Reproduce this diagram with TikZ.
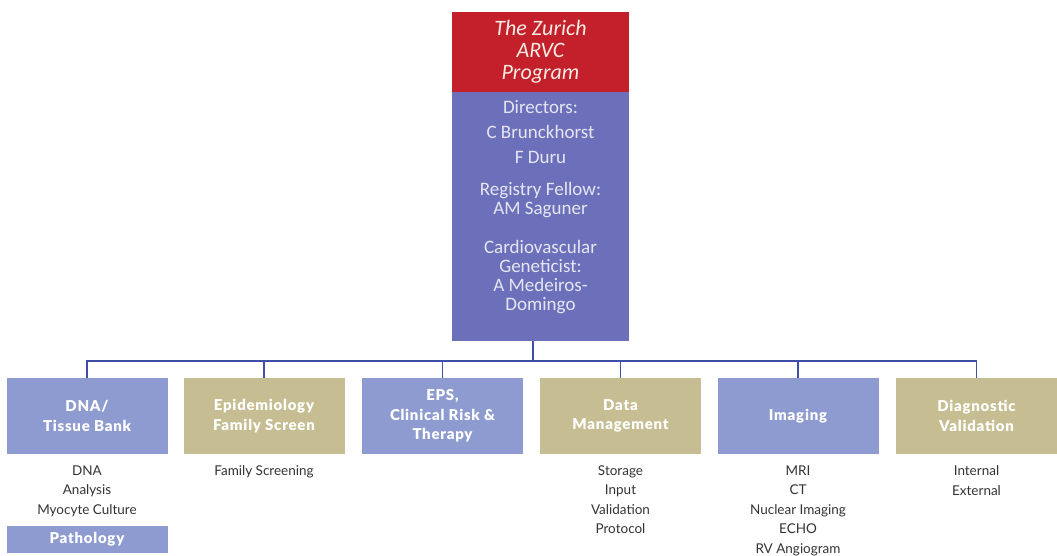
\documentclass[tikz,border=0pt]{standalone}
\usepackage{fontspec}
\setmainfont{Carlito}
\newfontfamily\gillfont{Lato}
\IfFontExistsTF{Lato Black}
  {\newfontfamily\unitfont{Lato Black}[LetterSpace=5]}
  {\newcommand\unitfont{\gillfont\bfseries}}
\usetikzlibrary{positioning}
\definecolor{arvcred}{HTML}{C4202B}
\definecolor{titletext}{HTML}{F6ECE4}
\definecolor{staffblue}{HTML}{6C70BA}
\definecolor{stafftextc}{HTML}{E6E6F2}
\definecolor{unitblue}{HTML}{8E9BD0}
\definecolor{unittan}{HTML}{C6BE92}
\definecolor{linkblue}{HTML}{3F4FA8}
\definecolor{tasktext}{HTML}{333333}

\begin{document}
\begin{tikzpicture}[
    x=1pt, y=-1pt,
    link/.style={
      draw=linkblue,
      line width=1.8pt
    },
    titlebox/.style={
      fill=arvcred,
      minimum width=177pt,
      minimum height=80pt,
      inner sep=0pt,
      text=titletext,
      align=center,
      font=\fontsize{22}{22}\selectfont\itshape
    },
    staffbox/.style={
      fill=staffblue,
      minimum width=177pt,
      minimum height=249pt,
      inner sep=0pt
    },
    stafftext/.style={
      text=stafftextc,
      align=center,
      inner sep=0pt,
      font=\fontsize{19}{19}\selectfont
    },
    unit/.style={
      minimum width=161pt,
      minimum height=76pt,
      inner sep=0pt,
      text=white,
      align=center,
      font=\unitfont\fontsize{15}{19.5}\selectfont
    },
    blueunit/.style={unit, fill=unitblue},
    tanunit/.style={unit, fill=unittan},
    tasks/.style={
      anchor=north,
      align=center,
      inner sep=0pt,
      text=tasktext,
      font=\gillfont\fontsize{13.5}{19.5}\selectfont
    }
  ]
  \useasboundingbox (0,0) rectangle (1057,555);

  % program head
  \node[titlebox] (title) at (540.5,52) {The Zurich\\ARVC\\Program};
  \node[staffbox] (staff) at (540.5,216.5) {};
  \node[stafftext] (people) at (540.5,207) {Directors:\\[6pt]C Brunckhorst\\[6pt]F Duru\\[13pt]
    Registry Fellow:\\AM Saguner\\[20pt]Cardiovascular\\Geneticist:\\A Medeiros-\\Domingo};

  % units
  \node[blueunit] (dna)     at (87,416)    {DNA/\\Tissue Bank};
  \node[tanunit]  (epi)     at (264,416)   {Epidemiology\\Family Screen};
  \node[blueunit] (eps)     at (442.5,416) {EPS,\\Clinical Risk \&\\Therapy};
  \node[tanunit]  (data)    at (620.5,416) {Data\\Management};
  \node[blueunit] (imaging) at (798,416)   {Imaging};
  \node[tanunit]  (diag)    at (976.5,416) {Diagnostic\\Validation};

  % tasks of each unit
  \node[tasks] (dnatasks)     at (87,465.5)    {DNA\\Analysis\\Myocyte Culture};
  \node[tasks] (epitasks)     at (264,465.5)   {Family Screening};
  \node[tasks] (datatasks)    at (620.5,465.5) {Storage\\Input\\Validation\\Protocol};
  \node[tasks] (imagingtasks) at (798,465.5)   {MRI\\CT\\Nuclear Imaging\\ECHO\\RV Angiogram};
  \node[tasks] (diagtasks)    at (976.5,465.5) {Internal\\External};
  \node[blueunit, minimum height=27pt] (patho) at (87,539.5) {Pathology};

  % connectors
  \coordinate (bus) at (533,361);
  \draw[link] (bus |- staff.south) -- (bus);
  \foreach \u in {dna,epi,eps,data,imaging,diag}
    \draw[link] (bus) -| (\u.north);

\end{tikzpicture}
\end{document}
